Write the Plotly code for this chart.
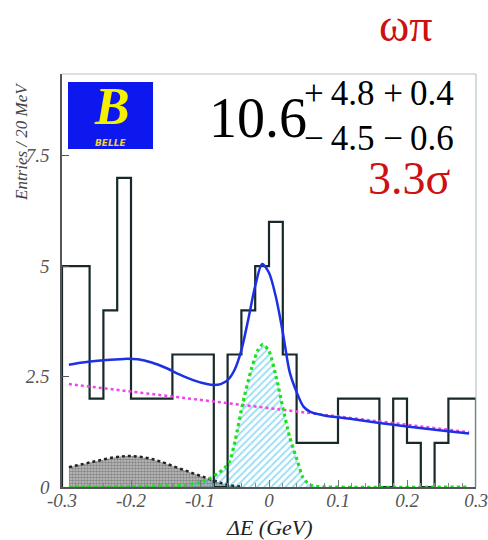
import plotly.graph_objects as go

# ---- data -----------------------------------------------------------------
bin_centers = [-0.29, -0.27, -0.25, -0.23, -0.21, -0.19, -0.17, -0.15, -0.13, -0.11,
               -0.09, -0.07, -0.05, -0.03, -0.01, 0.01, 0.03, 0.05, 0.07, 0.09,
               0.11, 0.13, 0.15, 0.17, 0.19, 0.21, 0.23, 0.25, 0.27, 0.29]
entries = [5, 5, 2, 4, 7, 2, 2, 2, 3, 3,
           3, 0, 3, 4, 5, 6, 3, 1, 1, 1,
           2, 2, 2, 0, 2, 1, 0, 1, 2, 2]
bin_width = 0.02

# total fit
fit_x = [-0.29, -0.27, -0.24, -0.21, -0.19, -0.17, -0.15, -0.13, -0.11, -0.09,
         -0.08, -0.07, -0.06, -0.05, -0.04, -0.03, -0.02, -0.01, 0.0, 0.01,
         0.02, 0.03, 0.04, 0.05, 0.06, 0.08, 0.12, 0.16, 0.20, 0.25, 0.29]
fit_y = [2.77, 2.82, 2.87, 2.90, 2.89, 2.82, 2.70, 2.55, 2.42, 2.33,
         2.31, 2.33, 2.42, 2.65, 3.10, 3.80, 4.55, 5.05, 4.85, 4.30,
         3.50, 2.60, 2.15, 1.82, 1.70, 1.62, 1.54, 1.45, 1.37, 1.28, 1.21]

# continuum background (linear)
cont_x = [-0.29, 0.29]
cont_y = [2.33, 1.24]

# signal component
sig_x = [-0.29, -0.20, -0.14, -0.12, -0.10, -0.085, -0.075, -0.065, -0.057, -0.049,
         -0.038, -0.025, -0.016, -0.009, 0.0, 0.011, 0.02, 0.03, 0.041, 0.049,
         0.059, 0.07, 0.29]
sig_y = [0.0, 0.01, 0.03, 0.05, 0.10, 0.20, 0.30, 0.42, 0.58, 1.05,
         1.90, 2.70, 3.10, 3.23, 3.08, 2.45, 1.80, 1.13, 0.60, 0.22,
         0.05, 0.01, 0.0]

# BBbar background component
bb_x = [-0.29, -0.255, -0.225, -0.205, -0.185, -0.16, -0.135, -0.11, -0.09, -0.075, -0.06, -0.04]
bb_y = [0.45, 0.57, 0.67, 0.70, 0.68, 0.59, 0.45, 0.31, 0.20, 0.12, 0.05, 0.01]

x_tickvals = [-0.3, -0.2, -0.1, 0, 0.1, 0.2, 0.3]
x_ticktext = ["-0.3", "-0.2", "-0.1", "0", "0.1", "0.2", "0.3"]
y_tickvals = [0, 2.5, 5, 7.5]
y_ticktext = ["0", "2.5", "5", "7.5"]

# ---- layout geometry (pixels) -----------------------------------------------
W, H = 488, 540
L, R, T, B = 62, 476, 74, 487
SERIF = "Liberation Serif, Times New Roman, DejaVu Serif, serif"
THIN = "\u2009"


def px(xp):
    return (xp - L) / (R - L)


def py(yp):
    return (B - yp) / (B - T)


# histogram outline as a step line
edges = [c - bin_width / 2 for c in bin_centers] + [bin_centers[-1] + bin_width / 2]
hx = [edges[0]] + edges + [edges[-1]]
hy = [0] + entries + [entries[-1], 0]

fig = go.Figure()

fig.add_trace(go.Scatter(
    x=bb_x, y=bb_y, mode="lines", line=dict(color="#222", width=2.5, dash="dot", shape="spline"),
    fill="tozeroy",
    fillpattern=dict(shape=".", fgcolor="#4a4a4a", bgcolor="#c4c4c4", size=3, solidity=0.6),
    hoverinfo="skip"))

fig.add_trace(go.Scatter(
    x=sig_x, y=sig_y, mode="lines", line=dict(width=0, shape="spline", smoothing=0.6),
    fill="tozeroy",
    fillpattern=dict(shape="/", fgcolor="#30bde8", bgcolor="rgba(255,255,255,0)", size=5, solidity=0.35),
    hoverinfo="skip"))

fig.add_trace(go.Scatter(
    x=hx, y=hy, mode="lines", line=dict(color="#17292a", width=2.2, shape="hv"),
    hoverinfo="skip"))

fig.add_trace(go.Scatter(
    x=cont_x, y=cont_y, mode="lines", line=dict(color="#ee44ee", width=2.5, dash="dot"),
    hoverinfo="skip"))

fig.add_trace(go.Scatter(
    x=sig_x, y=sig_y, mode="lines",
    line=dict(color="#1fe01f", width=3.2, dash="dot", shape="spline", smoothing=0.6),
    hoverinfo="skip"))

fig.add_trace(go.Scatter(
    x=fit_x, y=fit_y, mode="lines",
    line=dict(color="#1c30e6", width=2.5, shape="spline", smoothing=0.8),
    hoverinfo="skip"))

tickfont = dict(family=SERIF, size=19, color="#555", style="italic")

fig.update_xaxes(
    range=[-0.3, 0.3], showgrid=False, zeroline=False, automargin=False,
    showline=True, linecolor="#555", linewidth=1.5,
    tickmode="array", tickvals=x_tickvals, ticktext=x_ticktext,
    ticks="inside", ticklen=7, tickcolor="#777", tickwidth=1,
    minor=dict(tick0=-0.3, dtick=0.02, ticks="inside", ticklen=4, tickcolor="#888"),
    tickfont=tickfont, ticklabelstandoff=-5)

fig.update_yaxes(
    range=[0, 9.35], showgrid=False, zeroline=False, automargin=False,
    showline=True, linecolor="#555", linewidth=1.5,
    tickmode="array", tickvals=y_tickvals, ticktext=y_ticktext,
    ticks="inside", ticklen=7, tickcolor="#555", tickwidth=1.2,
    tickfont=tickfont, ticklabelstandoff=7)

shapes = [
    # light top and right frame edges
    dict(type="line", xref="paper", yref="paper", x0=0, x1=1, y0=1, y1=1,
         line=dict(color="#b8c4c8", width=1.2)),
    dict(type="line", xref="paper", yref="paper", x0=1, x1=1, y0=0, y1=1,
         line=dict(color="#b8c4c8", width=1.2)),
    # experiment logo panel
    dict(type="rect", xref="paper", yref="paper", x0=px(68), x1=px(153), y0=py(149), y1=py(82),
         fillcolor="#0c18ee", line=dict(width=0), layer="above"),
]

annotations = [
    dict(text="B", x=px(112), y=py(106), xanchor="center", yanchor="middle",
         font=dict(family=SERIF, size=52, color="#f4f000", style="italic", weight="bold")),
    dict(text="BELLE", x=px(110), y=py(143), xanchor="center", yanchor="middle",
         font=dict(family="DejaVu Sans", size=9, color="#f0d040", style="italic", weight="bold")),
    dict(text="ωπ", x=px(406), y=py(26), xanchor="center", yanchor="middle",
         font=dict(family=SERIF, size=46, color="#cc1111")),
    dict(text="10.6", x=px(207), y=py(137 + 14), xanchor="left", yanchor="bottom",
         font=dict(family=SERIF, size=56, color="#000")),
    dict(text=f"+{THIN}4.8 +{THIN}0.4", x=px(302), y=py(106 + 9), xanchor="left", yanchor="bottom",
         font=dict(family=SERIF, size=35, color="#000")),
    dict(text=f"−{THIN}4.5 −{THIN}0.6", x=px(302), y=py(151 + 9), xanchor="left", yanchor="bottom",
         font=dict(family=SERIF, size=35, color="#000")),
    dict(text="3.3σ", x=px(453), y=py(195 + 11), xanchor="right", yanchor="bottom",
         font=dict(family=SERIF, size=46, color="#cc1111")),
    dict(text="Entries / 20 MeV", x=px(21), y=py(142), xanchor="center", yanchor="middle",
         textangle=-90, font=dict(family=SERIF, size=17, color="#444", style="italic")),
    dict(text="ΔE (GeV)", x=px(269), y=py(527), xanchor="center", yanchor="middle",
         font=dict(family=SERIF, size=22, color="#222", style="italic")),
]
for a in annotations:
    a.update(xref="paper", yref="paper", showarrow=False)

fig.update_layout(
    width=W, height=H, showlegend=False,
    margin=dict(l=L, r=W - R, t=T, b=H - B, pad=0, autoexpand=False),
    paper_bgcolor="white", plot_bgcolor="white",
    shapes=shapes, annotations=annotations)

fig.write_html("out.html")
